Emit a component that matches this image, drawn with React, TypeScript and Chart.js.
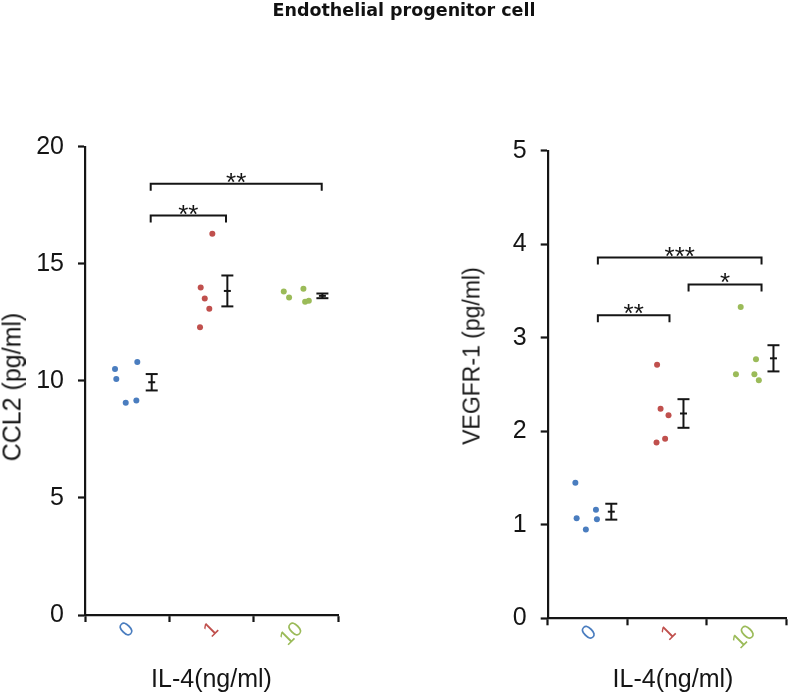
import React, { useEffect, useRef } from "react";
import { Chart, registerables } from "chart.js";

Chart.register(...registerables);

// ---------- data ----------
const categories = ["0", "1", "10"];
const groupColors = ["#4a7dbf", "#c0504d", "#9bbb59"];

// CCL2 (pg/ml): individual values per IL-4 group, and their x position inside the category (0..1)
const ccl2Values = [
  [10.51, 10.8, 10.08, 9.07, 9.16],
  [16.28, 13.99, 13.52, 13.08, 12.29],
  [13.82, 13.56, 13.93, 13.38, 13.42],
];
const ccl2Positions = [
  [0.356, 0.62, 0.371, 0.483, 0.609],
  [0.51, 0.372, 0.42, 0.474, 0.364],
  [0.357, 0.42, 0.59, 0.61, 0.654],
];
const ccl2Mean = [9.94, 13.84, 13.63];
const ccl2Sem = [0.35, 0.66, 0.1];
const ccl2BarPos = [0.791, 0.688, 0.815];
const ccl2BracketFrom = [0.779, 0.779];
const ccl2BracketTo = [1.672, 2.807];
const ccl2BracketY = [17.06, 18.42];
const ccl2BracketLabels = ["**", "**"];
const ccl2Ticks = { max: 20, step: 5 };

// VEGFR-1 (pg/ml)
const vegfValues = [
  [1.45, 1.07, 0.95, 1.16, 1.06],
  [2.71, 2.24, 2.17, 1.88, 1.92],
  [3.33, 2.77, 2.61, 2.61, 2.545],
];
const vegfPositions = [
  [0.348, 0.364, 0.48, 0.607, 0.619],
  [0.376, 0.42, 0.52, 0.369, 0.477],
  [0.428, 0.62, 0.368, 0.6, 0.656],
];
const vegfMean = [1.14, 2.19, 2.78];
const vegfSem = [0.085, 0.153, 0.14];
const vegfBarPos = [0.8, 0.708, 0.84];
const vegfBracketFrom = [0.631, 1.772, 0.631];
const vegfBracketTo = [1.532, 2.69, 2.69];
const vegfBracketY = [3.24, 3.57, 3.857];
const vegfBracketLabels = ["**", "*", "***"];
const vegfTicks = { max: 5, step: 1 };

// ---------- styling ----------
const FONT = "'Liberation Sans', Arial, sans-serif";
const INK = "#151515";

const sigPlugin = {
  id: "sigMarks",
  afterDatasetsDraw(chart: any, _args: any, opts: any) {
    const { ctx } = chart;
    const x = chart.scales.x;
    const y = chart.scales.y;
    ctx.save();
    ctx.strokeStyle = INK;
    ctx.fillStyle = INK;
    ctx.lineWidth = 2;
    ctx.lineCap = "butt";
    const seg = (x1: number, y1: number, x2: number, y2: number) => {
      ctx.beginPath();
      ctx.moveTo(x1, y1);
      ctx.lineTo(x2, y2);
      ctx.stroke();
    };
    (opts.means as number[]).forEach((m, i) => {
      const px = x.getPixelForValue(i + opts.barPos[i]);
      const yt = y.getPixelForValue(m + opts.sems[i]);
      const yb = y.getPixelForValue(m - opts.sems[i]);
      const ym = y.getPixelForValue(m);
      seg(px, yt, px, yb);
      seg(px - 6, yt, px + 6, yt);
      seg(px - 6, yb, px + 6, yb);
      seg(px - 3.5, ym, px + 3.5, ym);
    });
    ctx.font = `26px ${FONT}`;
    ctx.textAlign = "center";
    ctx.textBaseline = "alphabetic";
    (opts.bracketY as number[]).forEach((v, i) => {
      const x1 = x.getPixelForValue(opts.bracketFrom[i]);
      const x2 = x.getPixelForValue(opts.bracketTo[i]);
      const yy = y.getPixelForValue(v);
      ctx.beginPath();
      ctx.moveTo(x1, yy + 7);
      ctx.lineTo(x1, yy);
      ctx.lineTo(x2, yy);
      ctx.lineTo(x2, yy + 7);
      ctx.stroke();
      ctx.fillText(opts.bracketLabels[i], (x1 + x2) / 2, yy + 7);
    });
    ctx.restore();
  },
};

function makeConfig(
  values: number[][],
  positions: number[][],
  means: number[],
  sems: number[],
  barPos: number[],
  bracketFrom: number[],
  bracketTo: number[],
  bracketY: number[],
  bracketLabels: string[],
  ticks: { max: number; step: number },
  geom: { yWidth: number; xHeight: number; top: number; right: number; labelShift: number }
): any {
  return {
    type: "scatter",
    data: {
      datasets: values.map((vals, i) => ({
        label: categories[i],
        data: vals.map((v, j) => ({ x: i + positions[i][j], y: v })),
        backgroundColor: groupColors[i],
        borderWidth: 0,
        pointRadius: 3,
      })),
    },
    options: {
      animation: false,
      responsive: false,
      layout: { padding: { top: geom.top, right: geom.right, bottom: 0, left: 0 } },
      plugins: {
        legend: { display: false },
        tooltip: { enabled: false },
        title: { display: false },
        sigMarks: { means, sems, barPos, bracketFrom, bracketTo, bracketY, bracketLabels },
      },
      scales: {
        x: {
          type: "linear",
          min: 0,
          max: 3,
          border: { display: true, color: INK, width: 2.2 },
          grid: {
            display: true,
            drawOnChartArea: false,
            drawTicks: true,
            tickLength: 7,
            tickWidth: 2.2,
            tickColor: (c: any) =>
              c.tick && Number.isInteger(c.tick.value) ? INK : "rgba(0,0,0,0)",
          },
          ticks: {
            stepSize: 0.5,
            autoSkip: false,
            minRotation: 45,
            maxRotation: 45,
            padding: -5,
            labelOffset: geom.labelShift,
            font: { family: FONT, size: 21 },
            color: (c: any) => groupColors[Math.min(2, Math.floor(c.tick ? c.tick.value : 0))],
            callback: (v: any) => {
              const k = Number(v) - 0.5;
              return Number.isInteger(k) && categories[k] !== undefined ? categories[k] : "";
            },
          },
          afterFit: (s: any) => {
            s.height = geom.xHeight;
          },
        },
        y: {
          type: "linear",
          min: 0,
          max: ticks.max,
          border: { display: true, color: INK, width: 2.2 },
          grid: {
            display: true,
            drawOnChartArea: false,
            drawTicks: true,
            tickLength: 7,
            tickWidth: 2.2,
            tickColor: INK,
          },
          ticks: {
            stepSize: ticks.step,
            padding: 14,
            font: { family: FONT, size: 25 },
            color: INK,
          },
          afterFit: (s: any) => {
            s.width = geom.yWidth;
          },
        },
      },
    },
    plugins: [sigPlugin],
  };
}

const abs = (extra: React.CSSProperties): React.CSSProperties => ({
  position: "absolute",
  whiteSpace: "nowrap",
  lineHeight: 1,
  color: INK,
  fontFamily: FONT,
  ...extra,
});

export default function App() {
  const leftRef = useRef<HTMLCanvasElement>(null);
  const rightRef = useRef<HTMLCanvasElement>(null);

  useEffect(() => {
    const c1 = new Chart(
      leftRef.current!,
      makeConfig(
        ccl2Values,
        ccl2Positions,
        ccl2Mean,
        ccl2Sem,
        ccl2BarPos,
        ccl2BracketFrom,
        ccl2BracketTo,
        ccl2BracketY,
        ccl2BracketLabels,
        ccl2Ticks,
        { yWidth: 85, xHeight: 78, top: 146.7, right: 62, labelShift: 4 }
      )
    );
    const c2 = new Chart(
      rightRef.current!,
      makeConfig(
        vegfValues,
        vegfPositions,
        vegfMean,
        vegfSem,
        vegfBarPos,
        vegfBracketFrom,
        vegfBracketTo,
        vegfBracketY,
        vegfBracketLabels,
        vegfTicks,
        { yWidth: 147.7, xHeight: 74.7, top: 150.7, right: 1.3, labelShift: 6 }
      )
    );
    return () => {
      c1.destroy();
      c2.destroy();
    };
  }, []);

  return (
    <div
      style={{
        position: "absolute",
        left: 0,
        top: 0,
        width: 799,
        height: 693,
        background: "#ffffff",
        overflow: "hidden",
      }}
    >
      <canvas
        ref={leftRef}
        width={400}
        height={693}
        style={{ position: "absolute", left: 0, top: 0, width: 400, height: 693 }}
      />
      <canvas
        ref={rightRef}
        width={399}
        height={693}
        style={{ position: "absolute", left: 400, top: 0, width: 399, height: 693 }}
      />
      <div
        style={abs({
          left: 404,
          top: 2,
          transform: "translateX(-50%)",
          fontFamily: "'DejaVu Sans', sans-serif",
          fontWeight: "bold",
          fontSize: 17.5,
          color: "#111",
        })}
      >
        Endothelial progenitor cell
      </div>
      <div
        style={abs({
          left: 11.5,
          top: 386.7,
          fontSize: 25,
          transform: "translate(-50%, -50%) rotate(-90deg)",
        })}
      >
        CCL2 (pg/ml)
      </div>
      <div
        style={abs({
          left: 472,
          top: 355.5,
          fontSize: 23,
          transform: "translate(-50%, -50%) rotate(-90deg)",
        })}
      >
        VEGFR-1 (pg/ml)
      </div>
      <div style={abs({ left: 211.5, top: 678, fontSize: 25, transform: "translate(-50%, -50%)" })}>
        IL-4(ng/ml)
      </div>
      <div style={abs({ left: 673, top: 678, fontSize: 25, transform: "translate(-50%, -50%)" })}>
        IL-4(ng/ml)
      </div>
    </div>
  );
}
